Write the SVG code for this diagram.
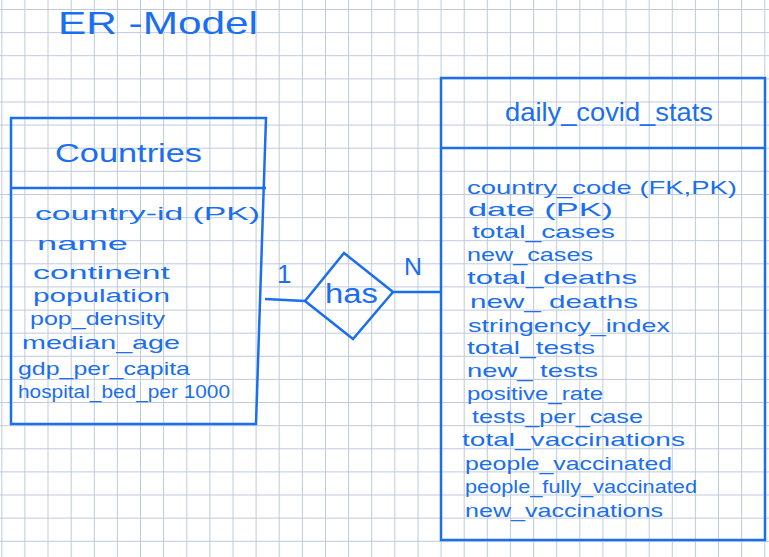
<svg xmlns="http://www.w3.org/2000/svg" width="769" height="557" viewBox="0 0 769 557">
<style>
.grid{stroke:#bfcadd;stroke-width:1;fill:none}
.ink{stroke:#1a6ef0;stroke-width:2.5;fill:none;stroke-linejoin:miter}
.t{font-family:"Liberation Sans","DejaVu Sans",sans-serif;fill:#1a6ef0}
.attr{font-size:19px}
.head{font-size:25px}
</style>
<rect width="769" height="557" fill="#ffffff"/>
<path class="grid" d="M1.8 0V557M24.9 0V557M48 0V557M71.2 0V557M94.3 0V557M117.4 0V557M140.5 0V557M163.6 0V557M186.8 0V557M209.9 0V557M233 0V557M256.1 0V557M279.2 0V557M302.4 0V557M325.5 0V557M348.6 0V557M371.7 0V557M394.8 0V557M418 0V557M441.1 0V557M464.2 0V557M487.3 0V557M510.4 0V557M533.6 0V557M556.7 0V557M579.8 0V557M602.9 0V557M626 0V557M649.2 0V557M672.3 0V557M695.4 0V557M718.5 0V557M741.6 0V557M764.8 0V557
M0 9.5H769M0 32.6H769M0 55.7H769M0 78.9H769M0 102H769M0 125.1H769M0 148.2H769M0 171.3H769M0 194.5H769M0 217.6H769M0 240.7H769M0 263.8H769M0 286.9H769M0 310.1H769M0 333.2H769M0 356.3H769M0 379.4H769M0 402.5H769M0 425.7H769M0 448.8H769M0 471.9H769M0 495H769M0 518.1H769M0 541.3H769"/>
<g id="title">
<text class="t" x="58" y="34" font-size="32" textLength="200" lengthAdjust="spacingAndGlyphs">ER -Model</text>
</g>
<g id="countries">
<polygon class="ink" points="11,118 266,118 256,424 11,424"/>
<line class="ink" x1="11" y1="188" x2="266" y2="188"/>
<text class="t head" x="55" y="162" textLength="147" lengthAdjust="spacingAndGlyphs">Countries</text>
<text class="t attr" x="35" y="220" textLength="225" lengthAdjust="spacingAndGlyphs">country-id (PK)</text>
<text class="t attr" x="37" y="250" textLength="91" lengthAdjust="spacingAndGlyphs">name</text>
<text class="t attr" x="33" y="279" textLength="137" lengthAdjust="spacingAndGlyphs">continent</text>
<text class="t attr" x="33" y="302" textLength="137" lengthAdjust="spacingAndGlyphs">population</text>
<text class="t attr" x="30" y="325" textLength="135" lengthAdjust="spacingAndGlyphs">pop_density</text>
<text class="t attr" x="22" y="349" textLength="158" lengthAdjust="spacingAndGlyphs">median_age</text>
<text class="t attr" x="18" y="375" textLength="172" lengthAdjust="spacingAndGlyphs">gdp_per_capita</text>
<text class="t attr" x="18" y="398" font-size="17" textLength="212" lengthAdjust="spacingAndGlyphs">hospital_bed_per 1000</text>
</g>
<g id="daily_covid_stats">
<rect class="ink" x="441" y="78" width="324" height="462"/>
<line class="ink" x1="441" y1="148" x2="765" y2="148"/>
<text class="t head" x="505" y="121" textLength="208" lengthAdjust="spacingAndGlyphs">daily_covid_stats</text>
<text class="t attr" x="467" y="194" textLength="270" lengthAdjust="spacingAndGlyphs">country_code  (FK,PK)</text>
<text class="t attr" x="468" y="216" textLength="145" lengthAdjust="spacingAndGlyphs">date    (PK)</text>
<text class="t attr" x="472" y="238" textLength="143" lengthAdjust="spacingAndGlyphs">total_cases</text>
<text class="t attr" x="467" y="261" textLength="126" lengthAdjust="spacingAndGlyphs">new_cases</text>
<text class="t attr" x="467" y="284" textLength="170" lengthAdjust="spacingAndGlyphs">total_deaths</text>
<text class="t attr" x="470" y="308" textLength="168" lengthAdjust="spacingAndGlyphs">new_ deaths</text>
<text class="t attr" x="468" y="332" textLength="202" lengthAdjust="spacingAndGlyphs">stringency_index</text>
<text class="t attr" x="467" y="354" textLength="128" lengthAdjust="spacingAndGlyphs">total_tests</text>
<text class="t attr" x="467" y="377" textLength="131" lengthAdjust="spacingAndGlyphs">new_ tests</text>
<text class="t attr" x="467" y="400" textLength="136" lengthAdjust="spacingAndGlyphs">positive_rate</text>
<text class="t attr" x="472" y="423" textLength="171" lengthAdjust="spacingAndGlyphs">tests_per_case</text>
<text class="t attr" x="462" y="446" textLength="223" lengthAdjust="spacingAndGlyphs">total_vaccinations</text>
<text class="t attr" x="465" y="470" textLength="207" lengthAdjust="spacingAndGlyphs">people_vaccinated</text>
<text class="t attr" x="465" y="493" textLength="232" lengthAdjust="spacingAndGlyphs">people_fully_vaccinated</text>
<text class="t attr" x="465" y="517" textLength="198" lengthAdjust="spacingAndGlyphs">new_vaccinations</text>
</g>
<g id="has">
<polygon class="ink" points="344,253 393,292 353,339 305,301"/>
<text class="t" x="325" y="303" font-size="27" textLength="53" lengthAdjust="spacingAndGlyphs">has</text>
</g>
<g id="connectors">
<line class="ink" x1="265" y1="299" x2="305" y2="301"/>
<line class="ink" x1="393" y1="292" x2="441" y2="292"/>
<text class="t" x="277" y="283" font-size="26">1</text>
<text class="t" x="404" y="275" font-size="24" textLength="18" lengthAdjust="spacingAndGlyphs">N</text>
</g>
</svg>
